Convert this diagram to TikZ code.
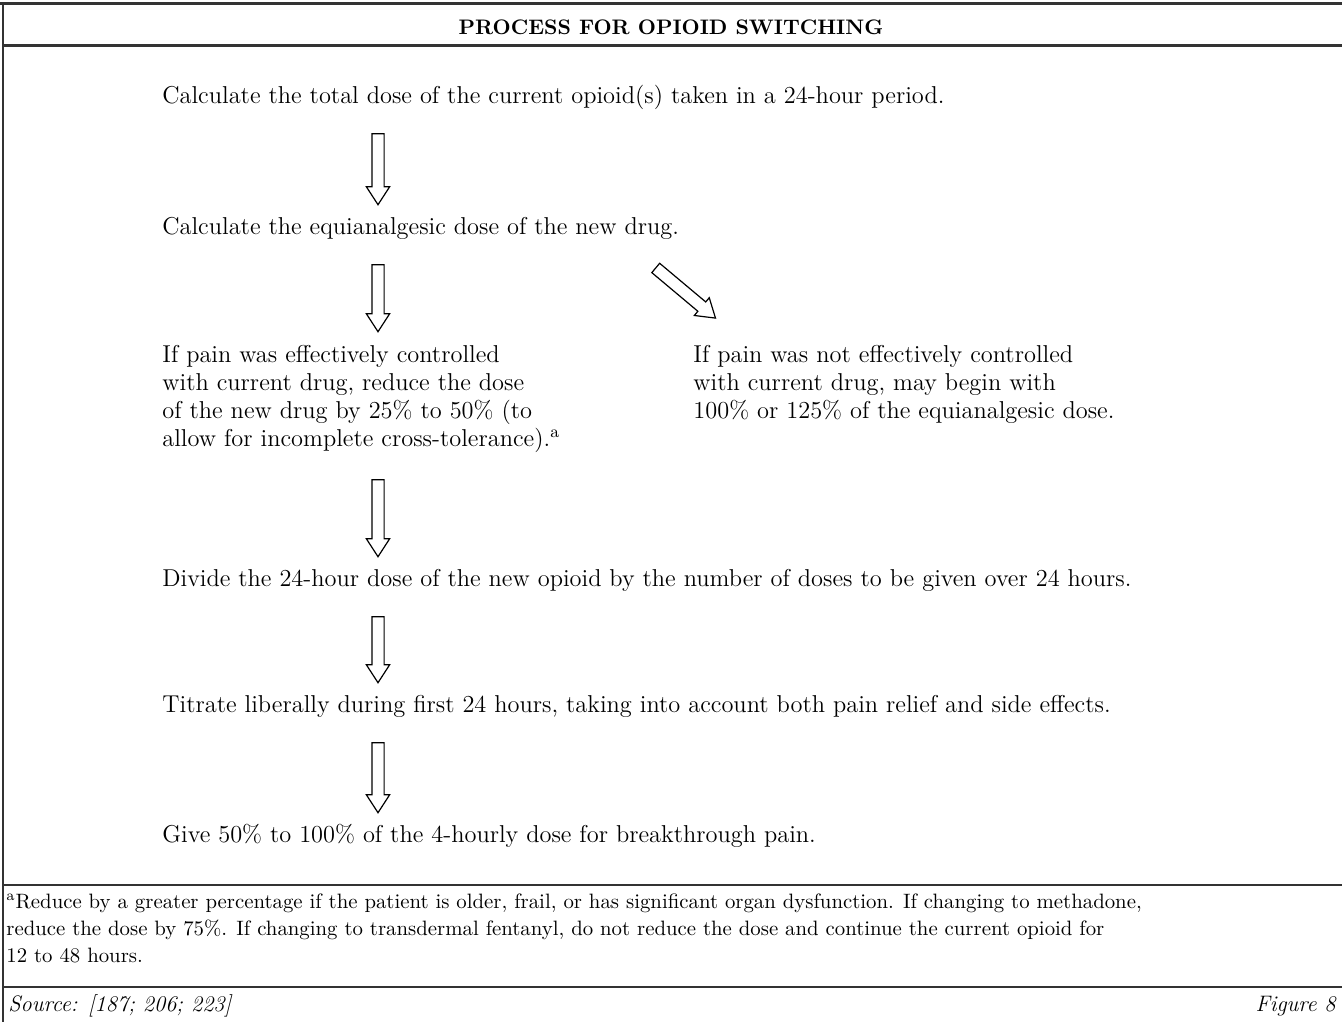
\documentclass[tikz,border=0pt]{standalone}
\usetikzlibrary{shapes.arrows}

\definecolor{framegray}{gray}{0.2}

\tikzset{
  steptext/.style={anchor=west, inner sep=0pt, font=\fontsize{12.2}{14}\selectfont},
  stepblock/.style={steptext, anchor=north west, align=left},
  notetext/.style={anchor=north west, inner sep=0pt, align=left, font=\fontsize{10.4}{13.5}\selectfont},
  hollowarrow/.style={single arrow, draw, line width=0.6pt, inner xsep=0pt, inner ysep=2.75pt,
    single arrow head extend=2.75pt, single arrow tip angle=66, minimum height=#1},
}

\begin{document}
\begin{tikzpicture}[x=0.5pt, y=-0.5pt]
      \useasboundingbox (0,0) rectangle (1342,1022);

      % frame and separators
      \draw [framegray, line width=1.5pt] (0,4) -- (1342,4);
      \draw [framegray, line width=1.5pt] (3,46) -- (1342,46);
      \draw [framegray, line width=1.3pt] (3,4) -- (3,1022);
      \draw [framegray, line width=0.9pt] (3,885) -- (1342,885);
      \draw [framegray, line width=0.9pt] (3,987) -- (1342,987);

      % title
      \node (T) at (671,27) {\fontsize{10.5}{12}\selectfont\bfseries PROCESS FOR OPIOID SWITCHING};

      % steps
      \node (S1) [steptext] at (162,97)  {Calculate the total dose of the current opioid(s) taken in a 24-hour period.};
      \node (S2) [steptext] at (162,228) {Calculate the equianalgesic dose of the new drug.};
      \node (S3) [stepblock] at (162,345) {If pain was effectively controlled\\
          with current drug, reduce the dose\\
          of the new drug by 25\% to 50\% (to\\
          allow for incomplete cross-tolerance).\textsuperscript{a}};
      \node (S4) [stepblock] at (693,345) {If pain was not effectively controlled\\
          with current drug, may begin with\\
          100\% or 125\% of the equianalgesic dose.};
      \node (S5) [steptext] at (162,580) {Divide the 24-hour dose of the new opioid by the number of doses to be given over 24 hours.};
      \node (S6) [steptext] at (162,706) {Titrate liberally during first 24 hours, taking into account both pain relief and side effects.};
      \node (S7) [steptext] at (162,836) {Give 50\% to 100\% of the 4-hourly dose for breakthrough pain.};

      % arrows
      \node (A1) [hollowarrow=35.5pt, rotate=-90] at (378,164.5) {};
      \node (A2) [hollowarrow=33.5pt, rotate=-90] at (378,293.5) {};
      \node (A3) [hollowarrow=39pt, rotate=-40]   at (682,290) {};
      \node (A4) [hollowarrow=38.5pt, rotate=-90] at (378,513.5) {};
      \node (A5) [hollowarrow=33pt, rotate=-90]   at (378,645) {};
      \node (A6) [hollowarrow=35pt, rotate=-90]   at (378,773) {};

      % footnote and source
      \node (N) [notetext] at (6,893) {\textsuperscript{a}Reduce by a greater percentage if the patient is older, frail, or has significant organ dysfunction. If changing to methadone,\\
          reduce the dose by 75\%. If changing to transdermal fentanyl, do not reduce the dose and continue the current opioid for\\
          12 to 48 hours.};
      \node (Src) [anchor=west, inner sep=0pt] at (8,1006) {\fontsize{11.2}{12}\selectfont\itshape Source: [187; 206; 223]};
      \node (Fig) [anchor=east, inner sep=0pt] at (1336,1006) {\fontsize{11.2}{12}\selectfont\itshape Figure 8};
    \end{tikzpicture}
\end{document}
